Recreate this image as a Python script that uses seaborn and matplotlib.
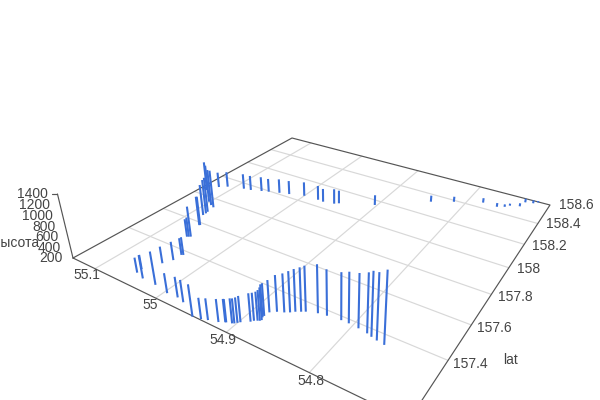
import numpy as np
import pandas as pd
import seaborn as sns
import matplotlib
matplotlib.use('Agg')
import matplotlib.pyplot as plt

# 数据: 经度 / 纬度 / 高度
lon = [54.842, 54.815, 54.78, 54.76, 54.751, 54.746, 54.734, 54.731, 54.721, 54.716, 55.12, 55.11, 55.086, 55.075, 55.06, 55.05,
       55.035, 55.021, 55.0, 54.977, 54.968, 54.952, 54.947, 54.903, 55.128, 55.101, 55.092, 55.085, 55.083, 55.082, 55.082, 55.067,
       55.068, 55.057, 55.059, 55.061, 55.035, 55.037, 55.037, 55.043, 55.018, 55.039, 55.054, 55.053, 54.996, 54.981, 54.97, 54.945,
       54.935, 54.928, 54.917, 54.911, 54.91, 54.904, 54.902, 54.9, 54.898, 54.89, 54.888, 54.885, 54.883, 54.882, 54.884, 54.884,
       54.883, 54.877, 54.87, 54.865, 54.861, 54.856, 54.852, 54.84, 54.83, 54.814, 54.805, 54.793, 54.782, 54.776, 54.769, 54.76]
lat = [158.328, 158.386, 158.453, 158.449, 158.468, 158.492, 158.511, 158.563, 158.574, 158.595, 157.9, 157.926, 157.953, 157.961,
       157.981, 157.994, 158.013, 158.028, 158.053, 158.056, 158.053, 158.065, 158.08, 158.157, 157.844, 157.762, 157.743, 157.733,
       157.688, 157.673, 157.655, 157.583, 157.581, 157.492, 157.487, 157.483, 157.375, 157.371, 157.327, 157.288, 157.175, 157.177,
       157.216, 157.191, 157.163, 157.166, 157.157, 157.117, 157.124, 157.133, 157.145, 157.157, 157.158, 157.165, 157.169, 157.177,
       157.185, 157.206, 157.216, 157.223, 157.227, 157.233, 157.246, 157.255, 157.28, 157.297, 157.308, 157.319, 157.332, 157.343,
       157.352, 157.368, 157.374, 157.381, 157.381, 157.377, 157.371, 157.364, 157.358, 157.353]
height = [333, 311, 297, 281, 253, 244, 266, 280, 266, 229, 524, 527, 525, 515, 508, 485, 500, 490, 498, 502, 479, 514, 476, 412,
          816, 974, 948, 977, 916, 900, 830, 783, 783, 803, 586, 554, 548, 528, 556, 522, 814, 638, 475, 487, 568, 577, 605, 771,
          578, 585, 606, 611, 611, 640, 640, 647, 663, 699, 693, 710, 739, 774, 781, 777, 773, 849, 887, 926, 951, 979, 1006, 1055,
          1009, 1030, 1086, 1140, 1225, 1299, 1331, 1430]

lon_ticks = [55.1, 55, 54.9, 54.8]
lat_ticks = [157.4, 157.6, 157.8, 158, 158.2, 158.4, 158.6]
z_ticks = [200, 400, 600, 800, 1000, 1200, 1400]

lon_lim = (54.7, 55.14)
lat_lim = (157.12, 158.6)
z_floor = 200

# 地面四个角在画布上的位置: 左, 后, 右, 前
src = [(lon_lim[1], lat_lim[0]), (lon_lim[1], lat_lim[1]), (lon_lim[0], lat_lim[1]), (lon_lim[0], lat_lim[0])]
dst = [(73, 258), (292, 138), (550, 205), (408.5, 420.7)]
A = []
b = []
for (u, v), (x, y) in zip(src, dst):
    A.append([u, v, 1, 0, 0, 0, -u * x, -v * x])
    b.append(x)
    A.append([0, 0, 0, u, v, 1, -u * y, -v * y])
    b.append(y)
H = np.append(np.linalg.solve(np.array(A), np.array(b)), 1).reshape(3, 3)

# 竖直方向的灭点, 以及高度比例 (1400 的刻度落在 y=194)
V = np.array([338.0, 1350.0])
w_c = H[2] @ [lon_lim[1], lat_lim[0], 1]
lam = w_c * (1 / ((194 - V[1]) / (258 - V[1])) - 1) / 1200


def project(lon_v, lat_v, z_v):
    lon_v, lat_v, z_v = np.asarray(lon_v, float), np.asarray(lat_v, float), np.asarray(z_v, float)
    p = H @ np.vstack([lon_v, lat_v, np.ones_like(lon_v)])
    k = (z_v - z_floor) * lam
    w = p[2] + k
    return (p[0] + k * V[0]) / w, (p[1] + k * V[1]) / w


sns.set_style('white')
plt.rcParams['font.family'] = ['Liberation Sans', 'DejaVu Sans']
fig = plt.figure(figsize=(6, 4), dpi=100)
ax = fig.add_axes([0, 0, 1, 1])

grid_color = '#d8d8d8'
line_color = '#555555'
text_color = '#444444'
fs = 10

for t in lon_ticks:
    x, y = project([t, t], lat_lim, [z_floor, z_floor])
    ax.plot(x, y, color=grid_color, lw=0.85, zorder=1)
for t in lat_ticks[:-1]:
    x, y = project(lon_lim, [t, t], [z_floor, z_floor])
    ax.plot(x, y, color=grid_color, lw=0.85, zorder=1)

# 地面边框
box_x = [c[0] for c in dst] + [dst[0][0]]
box_y = [c[1] for c in dst] + [dst[0][1]]
ax.plot(box_x, box_y, color=line_color, lw=0.85, zorder=2)

# 高度轴
x, y = project([lon_lim[1]] * 2, [lat_lim[0]] * 2, [z_ticks[0], z_ticks[-1]])
ax.plot(x, y, color=line_color, lw=0.85, zorder=2)
zx, zy = project([lon_lim[1]] * len(z_ticks), [lat_lim[0]] * len(z_ticks), z_ticks)
ax.plot([zx[-1] - 5, zx[-1]], [zy[-1], zy[-1]], color=line_color, lw=0.85, zorder=2)
for tx, ty, t in zip(zx, zy, z_ticks):
    ax.text(tx - 10, ty, str(t), ha='right', va='center', fontsize=fs, color=text_color)

# 每个点画一条从地面到高度的竖线
rows = []
for i, (lo, la, h) in enumerate(zip(lon, lat, height)):
    x, y = project([lo, lo], [la, la], [z_floor, h])
    rows.append({'id': i, 'x': x[0], 'y': y[0]})
    rows.append({'id': i, 'x': x[1], 'y': y[1]})
sns.lineplot(data=pd.DataFrame(rows), x='x', y='y', units='id', estimator=None, sort=False,
             color='#3a6fd8', lw=1.5, ax=ax, zorder=3, solid_capstyle='butt')

# 刻度文字
lon_label_xy = [(87, 275), (150, 305), (223, 340), (310.5, 381)]
for t, (x, y) in zip(lon_ticks, lon_label_xy):
    ax.text(x, y, str(t), ha='center', va='center', fontsize=fs, color=text_color)
lat_label_xy = [(453, 364), (477, 328), (498, 297), (517, 269), (532, 246), (546, 224), (559, 205)]
for t, (x, y) in zip(lat_ticks, lat_label_xy):
    ax.text(x, y, str(t), ha='left', va='center', fontsize=fs, color=text_color)
ax.text(511, 360, 'lat', ha='center', va='center', fontsize=fs, color=text_color)
ax.text(39, 243, 'высота', ha='right', va='center', fontsize=fs, color=text_color)

ax.set_xlim(0, 600)
ax.set_ylim(400, 0)
ax.axis('off')
fig.savefig('out.png', dpi=100)
